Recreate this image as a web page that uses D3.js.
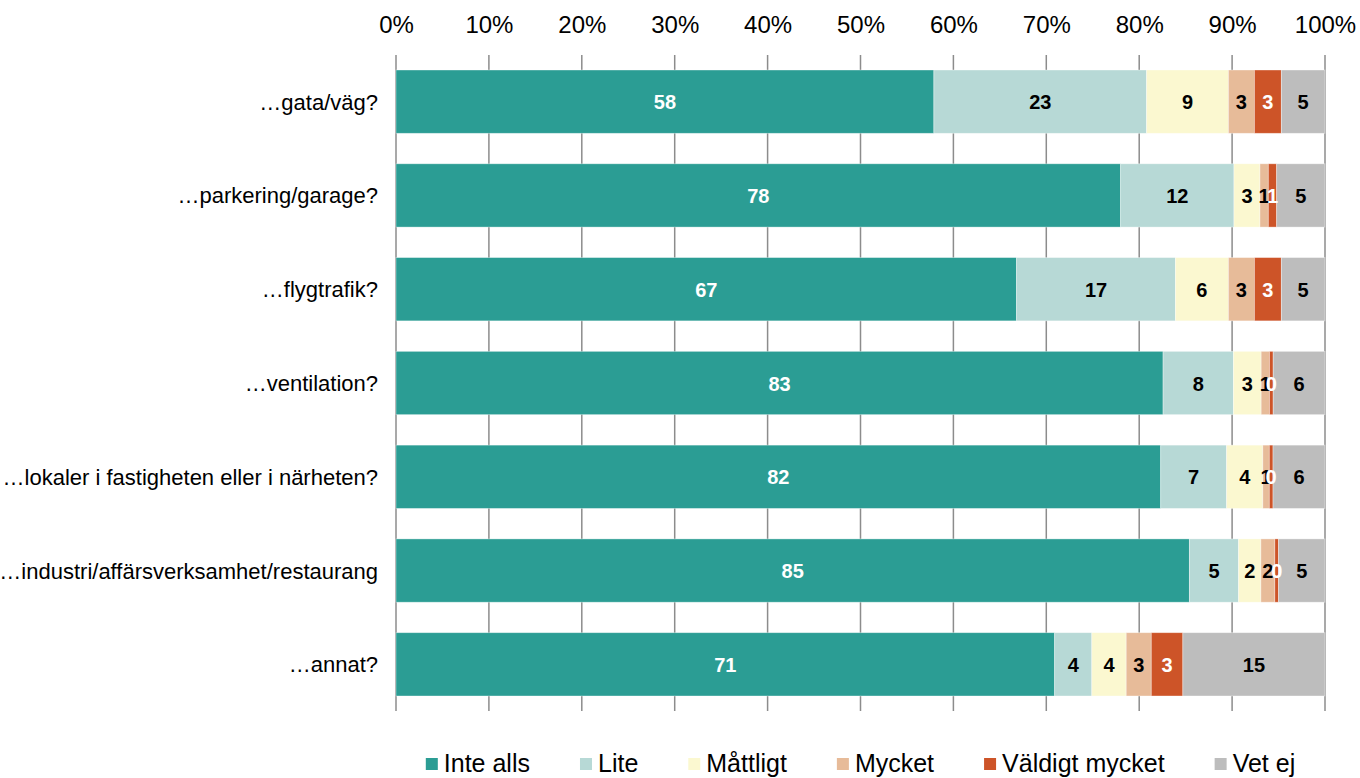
<!DOCTYPE html>
<html>
<head>
<meta charset="utf-8">
<script src="https://cdn.jsdelivr.net/npm/d3@7"></script>
<style>
  html, body { margin: 0; padding: 0; background: #fff; }
  svg { display: block; font-family: Arial, "Liberation Sans", sans-serif; }
</style>
</head>
<body>
<svg id="chart" width="1360" height="778"></svg>
<script>
// Survey: how much are you disturbed by noise from ...
const categories = [
  "…gata/väg?",
  "…parkering/garage?",
  "…flygtrafik?",
  "…ventilation?",
  "…lokaler i fastigheten eller i närheten?",
  "…industri/affärsverksamhet/restaurang",
  "…annat?"
];
const seriesNames = ["Inte alls", "Lite", "Måttligt", "Mycket", "Väldigt mycket", "Vet ej"];
const seriesColors = ["#2b9d94", "#b7d9d6", "#fbf8d0", "#e7bb99", "#cd5428", "#bdbdbd"];
const labelColors = ["#ffffff", "#000000", "#000000", "#000000", "#ffffff", "#000000"];

// Percent per answer, one array per series (same order as categories)
const inteAlls      = [57.9, 78.0, 66.8, 82.9, 82.4, 85.4, 70.9];
const lite          = [22.9, 12.2, 17.1,  7.6,  7.1,  5.3,  4.0];
const mattligt      = [ 8.8,  2.8,  5.7,  3.0,  3.9,  2.4,  3.7];
const mycket        = [ 2.8,  0.9,  2.8,  0.9,  0.7,  1.5,  2.7];
const valdigtMycket = [ 2.9,  0.9,  2.9,  0.4,  0.4,  0.4,  3.4];
const vetEj         = [ 4.7,  5.2,  4.7,  5.6,  5.6,  5.0, 15.3];

const tickValues = [0, 10, 20, 30, 40, 50, 60, 70, 80, 90, 100];

const seriesValues = [inteAlls, lite, mattligt, mycket, valdigtMycket, vetEj];
const rows = categories.map((c, i) => {
  const r = { category: c };
  seriesNames.forEach((s, j) => { r[s] = seriesValues[j][i]; });
  return r;
});

const svg = d3.select("#chart");
const plotLeft = 396, plotRight = 1325, plotTop = 55, plotBottom = 711;

const x = d3.scaleLinear().domain([0, 100]).range([plotLeft, plotRight]);
const y = d3.scaleBand().domain(categories).range([plotTop, plotBottom])
  .paddingInner(0.325).paddingOuter(0.16);

// stacked to 100%
const stacked = d3.stack().keys(seriesNames).offset(d3.stackOffsetExpand)(rows);

// vertical gridlines behind the bars
svg.append("g").selectAll("line").data(tickValues).join("line")
  .attr("x1", d => x(d)).attr("x2", d => x(d))
  .attr("y1", plotTop).attr("y2", plotBottom)
  .attr("stroke", "#8c8c8c").attr("stroke-width", 1.5);

// top axis labels
const axis = d3.axisTop(x).tickValues(tickValues).tickFormat(d => d + "%").tickSize(0).tickPadding(0);
const gAxis = svg.append("g").attr("transform", "translate(0,33)").call(axis);
gAxis.select(".domain").remove();
gAxis.selectAll("text")
  .attr("font-size", 24).attr("fill", "#000")
  .attr("font-family", "Arial, 'Liberation Sans', sans-serif")
  .attr("dy", 0);

// bars
const layers = svg.append("g").selectAll("g").data(stacked).join("g")
  .attr("fill", (d, i) => seriesColors[i]);

layers.selectAll("rect").data(d => d).join("rect")
  .attr("x", d => x(d[0] * 100))
  .attr("width", d => x(d[1] * 100) - x(d[0] * 100))
  .attr("y", d => y(d.data.category))
  .attr("height", y.bandwidth())
  .attr("stroke", "#ffffff").attr("stroke-opacity", 0.45).attr("stroke-width", 0.8);

// value labels
const fmt = d3.format(".0f");
stacked.forEach((layer, i) => {
  svg.append("g").selectAll("text").data(layer).join("text")
    .attr("x", d => x((d[0] + d[1]) / 2 * 100))
    .attr("y", d => y(d.data.category) + y.bandwidth() / 2 + 7.5)
    .attr("text-anchor", "middle")
    .attr("font-size", 20).attr("font-weight", "bold")
    .attr("fill", labelColors[i])
    .text(d => fmt(d.data[layer.key]));
});

// category labels
svg.append("g").selectAll("text").data(categories).join("text")
  .attr("x", 378)
  .attr("y", d => y(d) + y.bandwidth() / 2 + 8)
  .attr("text-anchor", "end")
  .attr("font-size", 22).attr("fill", "#000")
  .text(d => d);

// legend, centered under the plot
const legendGap = 50;
const legend = svg.append("g");
const items = legend.selectAll("g").data(seriesNames).join("g");
items.append("rect").attr("width", 12).attr("height", 12).attr("y", -14)
  .attr("fill", (d, i) => seriesColors[i]);
items.append("text").attr("x", 18).attr("y", 0)
  .attr("font-size", 25).attr("fill", "#000").text(d => d);
let cursor = 0;
items.each(function () {
  const w = this.querySelector("text").getComputedTextLength() + 18;
  d3.select(this).attr("transform", `translate(${cursor},0)`);
  cursor += w + legendGap;
});
const total = cursor - legendGap;
legend.attr("transform", `translate(${(plotLeft + plotRight) / 2 - total / 2},772)`);
</script>
</body>
</html>
